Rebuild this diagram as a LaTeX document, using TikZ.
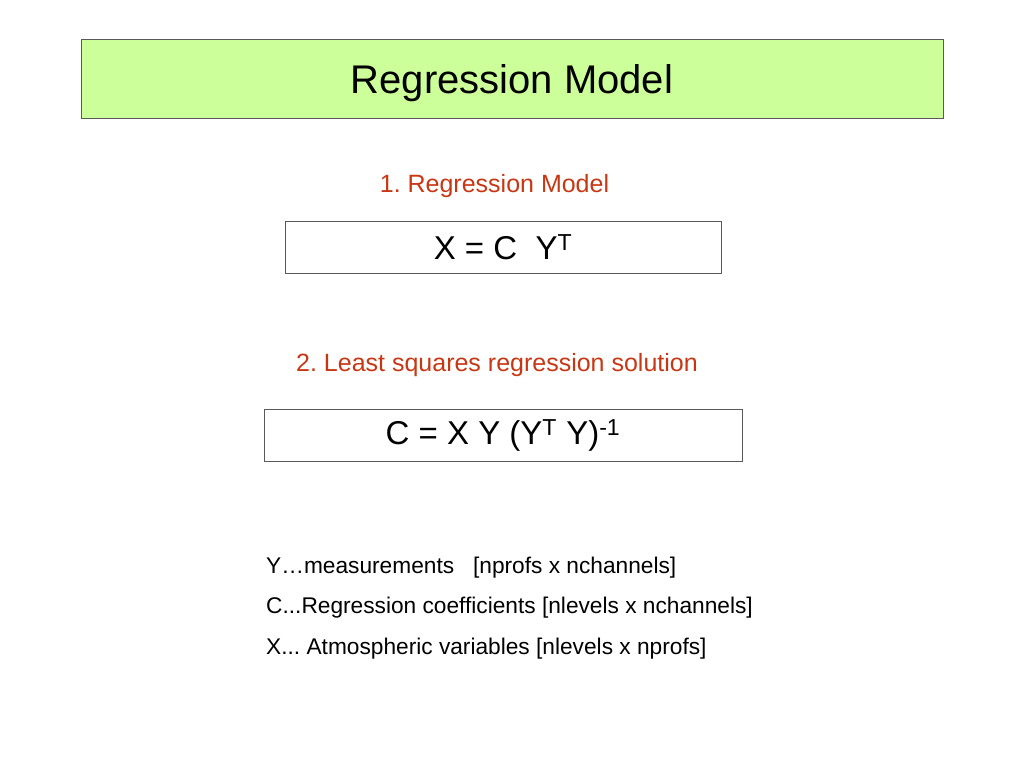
\documentclass[tikz,border=0pt]{standalone}
\usepackage{fontspec}
\setmainfont{Liberation Sans}
\usetikzlibrary{positioning}
\definecolor{titlegreen}{RGB}{204,255,153}
\definecolor{stepred}{RGB}{200,55,20}

\begin{document}
\frenchspacing
\begin{tikzpicture}[x=1pt, y=-1pt,
        titlebox/.style={draw=black!65, line width=1pt, fill=titlegreen, minimum width=862pt, minimum height=78pt, text depth=0pt, font=\fontsize{40}{48}\selectfont},
        eqbox/.style={draw=black!65, line width=1pt, fill=white, minimum height=52pt, inner sep=0pt, font=\fontsize{33}{40}\selectfont},
        heading/.style={text=stepred, inner sep=0pt, font=\fontsize{25}{30}\selectfont},
        legend/.style={anchor=west, inner sep=0pt, font=\fontsize{22.7}{27}\selectfont}
    ]
    \useasboundingbox (0,0) rectangle (1024,768);

    % Title
    \node[titlebox] (title) at (512,79) {Regression Model};

    % Regression model
    \node[heading] (model_head) at (494.5,186) {1. Regression Model};
    \node[eqbox, minimum width=436pt] (model_eq) at (503,247) {X = C\ \ Y\textsuperscript{T}};

    % Least squares solution
    \node[heading] (lsq_head) at (497,365) {2. Least squares regression solution};
    \node[eqbox, minimum width=478pt] (lsq_eq) at (503,435) {C = X Y (Y\textsuperscript{T} Y)\textsuperscript{-1}};

    % Variables
    \node[legend] (leg_y) at (266,568) {Y…measurements\ \ \ [nprofs x nchannels]};
    \node[legend] (leg_c) at (266,608) {C...Regression coefficients [nlevels x nchannels]};
    \node[legend] (leg_x) at (266,649) {X... Atmospheric variables [nlevels x nprofs]};

\end{tikzpicture}
\end{document}
